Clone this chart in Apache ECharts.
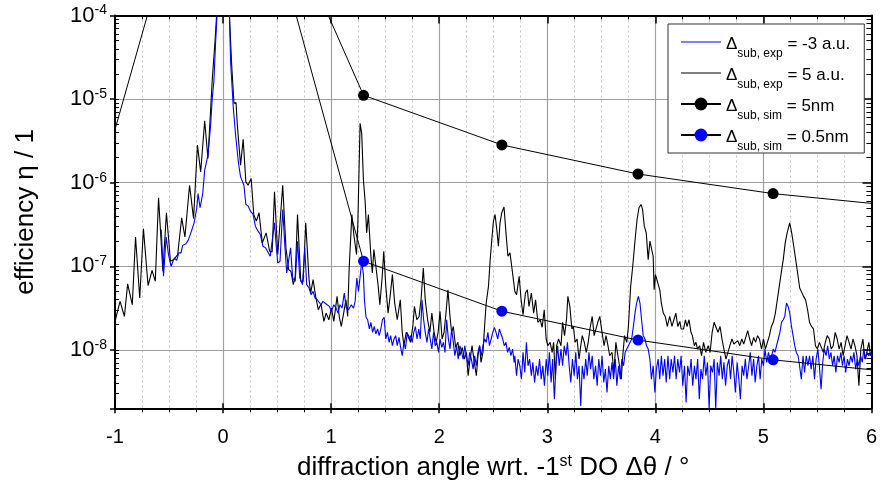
<!DOCTYPE html>
<html>
<head>
<meta charset="utf-8">
<script src="https://cdn.jsdelivr.net/npm/echarts@6/dist/echarts.min.js"></script>
<style>html,body{margin:0;padding:0;background:#fff}#main{width:880px;height:495px}</style>
</head>
<body>
<div id="main"></div>
<script>
var font = '"Liberation Sans", Arial, sans-serif';

var xMin = -1, xMax = 6;
var yMin = 2e-9, yMax = 1e-4;

// measured curves: [angle in deg, log10(efficiency)]
var black5au = [
[-1.0,-7.66],[-0.953,-7.42],[-0.913,-7.60],[-0.883,-7.21],[-0.840,-7.46],[-0.810,-6.65],[-0.771,-7.38],[-0.737,-6.55],[-0.694,-7.23],[-0.657,-7.05],
[-0.627,-7.18],[-0.597,-6.18],[-0.557,-7.06],[-0.524,-6.36],[-0.487,-6.94],[-0.456,-6.92],[-0.420,-6.86],[-0.383,-6.42],[-0.353,-6.65],[-0.310,-6.03],
[-0.273,-6.43],[-0.237,-5.55],[-0.207,-5.87],[-0.170,-5.26],[-0.140,-5.71],[-0.100,-4.77],[-0.074,-4.30],[-0.060,-4.0],[0.0,-2.5],[0.059,-4.0],
[0.080,-4.60],[0.101,-5.05],[0.120,-5.04],[0.132,-5.31],[0.162,-5.79],[0.186,-5.48],[0.211,-5.99],[0.232,-6.03],[0.260,-5.95],[0.284,-6.38],
[0.308,-6.46],[0.333,-6.36],[0.363,-6.72],[0.399,-6.60],[0.431,-6.82],[0.454,-6.83],[0.476,-6.11],[0.506,-6.86],[0.522,-6.85],[0.552,-6.03],
[0.582,-6.78],[0.607,-7.04],[0.628,-7.06],[0.650,-7.22],[0.668,-7.12],[0.689,-6.38],[0.719,-7.18],[0.741,-7.18],[0.765,-6.48],[0.796,-7.16],
[0.811,-7.32],[0.833,-7.16],[0.857,-7.36],[0.881,-7.52],[0.906,-7.45],[0.933,-7.66],[0.954,-7.56],[0.979,-7.64],[1.003,-7.50],[1.025,-7.66],
[1.055,-7.36],[1.076,-7.61],[1.094,-7.72],[1.116,-7.56],[1.137,-7.40],[1.153,-7.60],[1.167,-7.02],[1.192,-6.38],[1.210,-6.62],[1.235,-6.86],
[1.247,-6.50],[1.268,-5.29],[1.283,-5.41],[1.299,-5.97],[1.314,-6.21],[1.329,-6.60],[1.345,-6.38],[1.366,-6.84],[1.381,-7.08],[1.396,-6.80],
[1.414,-6.78],[1.436,-7.24],[1.451,-7.46],[1.473,-7.12],[1.487,-6.82],[1.506,-7.24],[1.527,-7.56],[1.546,-7.36],[1.567,-7.10],[1.588,-7.44],
[1.612,-7.64],[1.640,-7.40],[1.658,-7.79],[1.674,-7.95],[1.695,-7.79],[1.716,-7.83],[1.734,-7.91],[1.756,-7.72],[1.771,-7.48],[1.793,-7.64],
[1.814,-7.60],[1.832,-7.40],[1.853,-7.02],[1.871,-7.40],[1.893,-7.64],[1.914,-7.79],[1.932,-7.56],[1.953,-7.79],[1.972,-7.91],[1.990,-7.79],
[2.008,-7.54],[2.027,-7.87],[2.045,-7.79],[2.063,-7.56],[2.081,-7.28],[2.100,-7.60],[2.115,-7.79],[2.131,-7.72],[2.152,-7.97],[2.173,-7.91],
[2.191,-8.07],[2.213,-7.97],[2.234,-8.11],[2.252,-8.03],[2.268,-8.31],[2.282,-8.15],[2.304,-7.95],[2.325,-8.15],[2.344,-8.31],[2.359,-8.07],
[2.374,-7.95],[2.387,-8.15],[2.405,-8.03],[2.420,-7.72],[2.435,-7.44],[2.456,-7.24],[2.472,-6.92],[2.487,-6.68],[2.502,-6.46],[2.517,-6.38],
[2.533,-6.56],[2.548,-6.76],[2.563,-6.48],[2.579,-6.36],[2.600,-6.29],[2.618,-6.60],[2.636,-6.88],[2.655,-6.84],[2.679,-7.08],[2.700,-7.30],
[2.716,-7.34],[2.740,-7.12],[2.758,-7.40],[2.776,-7.58],[2.798,-7.32],[2.816,-7.28],[2.831,-7.48],[2.853,-7.32],[2.874,-7.56],[2.892,-7.40],
[2.913,-7.67],[2.935,-7.64],[2.953,-7.73],[2.972,-7.52],[2.990,-7.87],[3.005,-7.95],[3.027,-7.91],[3.045,-8.03],[3.059,-7.91],[3.075,-8.35],
[3.087,-7.95],[3.105,-7.87],[3.127,-7.95],[3.142,-7.67],[3.160,-7.83],[3.178,-7.64],[3.191,-7.36],[3.209,-7.48],[3.228,-7.75],[3.242,-7.72],
[3.258,-7.91],[3.276,-7.87],[3.294,-8.11],[3.310,-7.95],[3.324,-7.83],[3.343,-7.91],[3.361,-8.03],[3.379,-7.91],[3.395,-7.75],[3.416,-7.60],
[3.434,-7.83],[3.452,-7.83],[3.468,-7.67],[3.486,-7.60],[3.507,-7.79],[3.526,-7.95],[3.544,-7.83],[3.562,-7.95],[3.578,-8.07],[3.599,-8.03],
[3.617,-8.27],[3.635,-7.91],[3.654,-8.07],[3.669,-8.19],[3.685,-8.35],[3.699,-8.07],[3.715,-7.83],[3.736,-7.91],[3.751,-7.72],[3.772,-7.24],
[3.791,-7.00],[3.813,-6.68],[3.831,-6.44],[3.849,-6.30],[3.868,-6.26],[3.882,-6.32],[3.898,-6.52],[3.916,-6.60],[3.934,-6.92],[3.950,-6.70],
[3.964,-6.68],[3.980,-6.88],[3.989,-7.28],[4.001,-7.10],[4.019,-7.12],[4.041,-7.28],[4.056,-7.44],[4.074,-7.56],[4.092,-7.60],[4.111,-7.72],
[4.133,-7.60],[4.154,-7.72],[4.172,-7.64],[4.190,-7.56],[4.208,-7.72],[4.227,-7.66],[4.239,-7.75],[4.261,-7.75],[4.279,-7.64],[4.293,-7.72],
[4.312,-7.64],[4.330,-7.79],[4.343,-7.83],[4.361,-7.95],[4.376,-7.91],[4.391,-7.99],[4.410,-7.95],[4.428,-8.07],[4.446,-7.91],[4.467,-8.03],
[4.489,-7.95],[4.507,-8.03],[4.526,-7.79],[4.544,-7.67],[4.562,-7.66],[4.580,-7.79],[4.599,-7.72],[4.617,-7.87],[4.635,-7.99],[4.654,-8.11],
[4.672,-8.03],[4.690,-7.95],[4.709,-7.87],[4.727,-7.93],[4.745,-7.95],[4.763,-7.89],[4.782,-7.95],[4.800,-7.87],[4.818,-7.93],[4.837,-7.85],
[4.855,-7.77],[4.873,-7.87],[4.891,-7.95],[4.910,-7.85],[4.928,-7.91],[4.946,-7.83],[4.964,-7.87],[4.983,-7.99],[5.001,-7.87],[5.019,-7.99],
[5.037,-7.91],[5.056,-7.83],[5.074,-7.72],[5.092,-7.67],[5.111,-7.56],[5.129,-7.40],[5.147,-7.24],[5.165,-7.08],[5.184,-6.92],[5.202,-6.72],
[5.220,-6.60],[5.244,-6.48],[5.262,-6.60],[5.281,-6.76],[5.299,-6.92],[5.317,-7.08],[5.336,-7.26],[5.354,-7.28],[5.372,-7.36],[5.390,-7.40],
[5.409,-7.52],[5.427,-7.67],[5.445,-7.72],[5.464,-7.75],[5.482,-7.95],[5.500,-7.99],[5.518,-7.91],[5.537,-7.97],[5.555,-8.03],[5.573,-7.91],
[5.591,-7.83],[5.610,-7.87],[5.628,-7.99],[5.646,-7.95],[5.665,-7.79],[5.683,-7.87],[5.701,-7.99],[5.719,-7.91],[5.738,-8.07],[5.756,-7.95],
[5.774,-7.83],[5.793,-7.91],[5.811,-7.99],[5.829,-7.87],[5.847,-7.95],[5.866,-8.07],[5.884,-8.43],[5.902,-7.99],[5.921,-7.87],[5.939,-8.11],
[5.957,-8.03],[5.976,-7.91],[5.991,-8.07],[6.01,-7.99]
];

var blueM3au = [
[-0.572,-6.56],[-0.551,-7.12],[-0.527,-6.65],[-0.505,-6.86],[-0.481,-7.00],[-0.465,-7.00],[-0.451,-6.90],[-0.429,-6.93],[-0.410,-6.84],[-0.389,-6.84],
[-0.374,-6.75],[-0.344,-6.73],[-0.323,-6.69],[-0.298,-6.60],[-0.268,-6.48],[-0.243,-6.30],[-0.231,-6.13],[-0.213,-6.30],[-0.188,-6.13],[-0.170,-5.85],
[-0.152,-5.87],[-0.140,-5.67],[-0.115,-5.31],[-0.100,-4.99],[-0.085,-4.79],[-0.069,-4.32],[-0.056,-4.0],[0.0,-2.6],[0.059,-4.0],[0.070,-4.56],
[0.095,-5.11],[0.116,-5.43],[0.141,-5.75],[0.162,-5.93],[0.180,-5.95],[0.193,-6.03],[0.211,-6.26],[0.232,-6.28],[0.253,-6.34],[0.278,-6.38],
[0.299,-6.52],[0.324,-6.58],[0.345,-6.62],[0.369,-6.76],[0.394,-6.78],[0.415,-6.83],[0.436,-6.88],[0.454,-6.89],[0.476,-6.48],[0.491,-6.74],
[0.506,-6.96],[0.527,-6.94],[0.552,-6.32],[0.573,-6.78],[0.589,-7.08],[0.607,-7.06],[0.625,-6.78],[0.644,-7.14],[0.668,-7.18],[0.689,-6.70],
[0.710,-7.14],[0.735,-7.22],[0.756,-6.78],[0.774,-7.22],[0.796,-7.26],[0.814,-7.34],[0.833,-7.30],[0.851,-7.38],[0.872,-7.40],[0.888,-7.38],
[0.906,-7.46],[0.924,-7.42],[0.942,-7.44],[0.963,-7.46],[0.984,-7.48],[1.003,-7.54],[1.025,-7.46],[1.046,-7.50],[1.064,-7.56],[1.082,-7.46],
[1.101,-7.50],[1.122,-7.32],[1.140,-7.50],[1.162,-7.52],[1.186,-7.46],[1.207,-7.50],[1.222,-7.42],[1.238,-7.14],[1.253,-7.30],[1.277,-7.02],
[1.283,-6.94],[1.299,-7.10],[1.308,-7.40],[1.323,-7.61],[1.338,-7.64],[1.354,-7.75],[1.368,-7.67],[1.384,-7.79],[1.399,-7.72],[1.414,-7.81],
[1.430,-7.75],[1.445,-7.83],[1.460,-7.75],[1.475,-7.64],[1.491,-7.61],[1.505,-7.87],[1.521,-7.79],[1.537,-7.91],[1.551,-7.83],[1.567,-7.95],
[1.582,-7.87],[1.597,-7.83],[1.612,-7.95],[1.628,-7.85],[1.643,-7.97],[1.658,-8.07],[1.674,-7.91],[1.688,-7.99],[1.704,-7.79],[1.719,-7.87],
[1.734,-7.83],[1.750,-7.91],[1.765,-7.79],[1.780,-7.72],[1.795,-7.87],[1.811,-7.75],[1.825,-7.87],[1.841,-7.40],[1.856,-7.64],[1.871,-7.79],
[1.887,-7.91],[1.902,-7.75],[1.917,-7.87],[1.932,-7.99],[1.948,-7.79],[1.963,-7.95],[1.978,-7.91],[1.994,-8.03],[2.008,-7.87],[2.024,-7.97],
[2.039,-7.91],[2.054,-8.03],[2.069,-7.64],[2.085,-7.87],[2.100,-7.99],[2.115,-7.75],[2.131,-7.91],[2.145,-8.07],[2.161,-7.95],[2.176,-8.11],
[2.191,-7.95],[2.207,-8.03],[2.222,-8.11],[2.237,-7.95],[2.252,-8.07],[2.268,-8.19],[2.282,-8.03],[2.298,-8.11],[2.314,-8.23],[2.328,-8.07],
[2.344,-8.19],[2.359,-8.03],[2.374,-7.95],[2.389,-8.07],[2.405,-7.95],[2.420,-7.87],[2.435,-7.91],[2.451,-7.79],[2.465,-7.95],[2.481,-7.87],
[2.496,-7.79],[2.511,-7.73],[2.526,-7.79],[2.542,-7.87],[2.557,-7.75],[2.572,-7.75],[2.588,-7.87],[2.602,-7.95],[2.618,-7.91],[2.633,-8.03],
[2.648,-7.97],[2.664,-8.07],[2.679,-7.99],[2.694,-8.15],[2.700,-8.07],[2.716,-8.31],[2.730,-8.11],[2.746,-8.19],[2.761,-8.35],[2.776,-8.03],
[2.792,-8.27],[2.807,-7.91],[2.822,-8.19],[2.837,-8.11],[2.853,-8.31],[2.867,-8.15],[2.883,-8.39],[2.899,-8.19],[2.913,-8.31],[2.929,-8.11],
[2.944,-8.35],[2.959,-8.19],[2.974,-8.43],[2.990,-8.11],[3.005,-8.31],[3.020,-8.03],[3.036,-8.39],[3.050,-8.11],[3.066,-8.59],[3.081,-8.19],
[3.096,-7.95],[3.111,-8.19],[3.127,-7.99],[3.142,-8.19],[3.157,-7.95],[3.173,-8.07],[3.187,-7.91],[3.203,-8.19],[3.218,-8.39],[3.233,-8.11],
[3.249,-8.31],[3.264,-8.03],[3.279,-8.35],[3.294,-8.19],[3.310,-8.67],[3.324,-8.19],[3.340,-8.35],[3.356,-8.11],[3.370,-8.31],[3.386,-8.03],
[3.401,-8.23],[3.416,-8.07],[3.431,-8.35],[3.447,-8.19],[3.462,-8.43],[3.477,-8.11],[3.493,-8.31],[3.507,-8.07],[3.523,-8.39],[3.538,-8.23],
[3.553,-8.51],[3.569,-8.19],[3.584,-8.35],[3.599,-8.15],[3.614,-8.35],[3.630,-8.11],[3.644,-8.43],[3.660,-8.19],[3.676,-8.35],[3.690,-8.11],
[3.706,-8.19],[3.721,-8.03],[3.736,-7.99],[3.751,-7.95],[3.767,-7.95],[3.781,-7.87],[3.797,-7.72],[3.812,-7.56],[3.827,-7.44],[3.843,-7.36],
[3.858,-7.44],[3.873,-7.64],[3.888,-7.83],[3.904,-7.87],[3.919,-7.95],[3.934,-7.99],[3.950,-8.11],[3.964,-8.35],[3.980,-8.19],[3.996,-8.51],
[4.010,-8.23],[4.026,-8.11],[4.041,-8.35],[4.056,-8.07],[4.071,-8.31],[4.087,-8.11],[4.101,-8.39],[4.117,-8.07],[4.133,-8.35],[4.147,-8.11],
[4.163,-8.27],[4.178,-8.07],[4.193,-8.35],[4.208,-8.11],[4.224,-8.27],[4.239,-8.07],[4.254,-8.43],[4.270,-8.19],[4.285,-8.63],[4.300,-8.19],
[4.316,-8.31],[4.331,-8.11],[4.346,-8.43],[4.362,-8.19],[4.376,-8.35],[4.392,-8.11],[4.407,-8.59],[4.422,-8.23],[4.437,-8.35],[4.453,-8.07],
[4.467,-8.31],[4.483,-8.15],[4.498,-8.71],[4.513,-8.19],[4.529,-8.27],[4.544,-8.11],[4.559,-8.71],[4.574,-8.15],[4.590,-8.31],[4.605,-8.07],
[4.620,-8.35],[4.635,-8.15],[4.650,-8.43],[4.666,-8.19],[4.681,-8.11],[4.696,-8.35],[4.711,-8.07],[4.727,-8.27],[4.741,-8.51],[4.757,-8.15],
[4.773,-8.35],[4.787,-8.59],[4.803,-8.19],[4.818,-8.31],[4.833,-8.11],[4.848,-8.35],[4.864,-8.19],[4.879,-8.03],[4.894,-8.31],[4.910,-8.11],
[4.924,-8.39],[4.940,-8.19],[4.955,-8.07],[4.970,-8.35],[4.985,-8.11],[5.001,-8.19],[5.015,-7.99],[5.031,-8.15],[5.047,-8.03],[5.061,-8.11],
[5.077,-8.07],[5.092,-7.99],[5.107,-8.03],[5.122,-7.95],[5.138,-7.87],[5.153,-7.79],[5.168,-7.67],[5.184,-7.64],[5.198,-7.60],[5.214,-7.44],
[5.229,-7.48],[5.244,-7.56],[5.260,-7.72],[5.275,-7.83],[5.290,-7.95],[5.305,-8.03],[5.321,-8.07],[5.335,-8.19],[5.351,-8.35],[5.367,-8.07],
[5.381,-8.27],[5.397,-8.07],[5.412,-8.19],[5.427,-8.07],[5.442,-8.23],[5.458,-8.07],[5.473,-8.35],[5.488,-8.11],[5.504,-7.99],[5.518,-8.19],
[5.534,-8.47],[5.549,-8.15],[5.564,-7.99],[5.580,-8.07],[5.595,-7.95],[5.610,-8.11],[5.625,-8.03],[5.641,-8.19],[5.655,-8.07],[5.671,-8.27],
[5.686,-8.07],[5.701,-8.15],[5.717,-8.03],[5.732,-8.19],[5.747,-8.07],[5.762,-8.27],[5.778,-8.11],[5.793,-8.19],[5.808,-8.07],[5.823,-8.15],
[5.838,-8.03],[5.854,-8.23],[5.869,-8.11],[5.884,-8.19],[5.899,-8.07],[5.915,-8.15],[5.929,-7.99],[5.945,-8.11],[5.960,-8.03],[5.976,-8.07],
[5.991,-8.03],[6.01,-8.09]
];

// simulated diffraction orders
var sim5nmX = [0, 1.30, 2.58, 3.84, 5.09, 6.35];
var sim5nmY = [7.1e-2, 1.11e-5, 2.83e-6, 1.27e-6, 7.4e-7, 5.1e-7];
var sim05nmX = [-1.28, 0, 1.30, 2.58, 3.84, 5.09, 6.35];
var sim05nmY = [2.3e-7, 1.55e-1, 1.15e-7, 2.9e-8, 1.31e-8, 7.6e-9, 5.2e-9];

var legendNames = ['exp -3', 'exp 5', 'sim 5', 'sim 0.5'];
var legendSub = ['sub, exp', 'sub, exp', 'sub, sim', 'sub, sim'];
var legendValue = [' = -3 a.u.', ' = 5 a.u.', ' = 5nm', ' = 0.5nm'];

function fromLog(list) {
    return list.map(function (p) { return [p[0], Math.pow(10, p[1])]; });
}
function zip(xs, ys) {
    return xs.map(function (x, i) { return [x, ys[i]]; });
}

var logMin = Math.log10(yMin), logMax = Math.log10(yMax);
var majorTicks = [], minorTicks = [];
for (var n = -9; n <= -4; n++) {
    if (n > logMin) majorTicks.push(n);
    for (var m = 2; m <= 9; m++) {
        var v = n + Math.log10(m);
        if (v > logMin && v < logMax) minorTicks.push(v);
    }
}

var blackAxis = {color: '#000', width: 2};
var lineIcon = 'path://M0,0L40,0L40,1.2L0,1.2Z';

var option = {
    animation: false,
    backgroundColor: '#fff',
    grid: {left: 115, right: 0, top: 15.5, bottom: 86.7},
    legend: {
        orient: 'vertical',
        left: 668, top: 24,
        padding: [8, 14, 0, 12],
        itemWidth: 40, itemHeight: 16, itemGap: 3,
        borderColor: '#333', borderWidth: 1, backgroundColor: '#fff',
        selectedMode: false,
        data: [
            {name: legendNames[0], icon: lineIcon},
            {name: legendNames[1], icon: lineIcon},
            legendNames[2], legendNames[3]
        ],
        formatter: function (name) {
            var i = legendNames.indexOf(name);
            return '{t|Δ}{u|' + legendSub[i] + '}{t|' + legendValue[i] + '}';
        },
        textStyle: {
            fontFamily: font, fontSize: 17, color: '#000',
            rich: {
                t: {fontFamily: font, fontSize: 17, color: '#000', lineHeight: 20, padding: [4, 0, 4, 0], verticalAlign: 'top'},
                u: {fontFamily: font, fontSize: 12, color: '#000', lineHeight: 12, padding: [16, 0, 0, 0], verticalAlign: 'top'}
            }
        }
    },
    xAxis: [{
        type: 'value', min: xMin, max: xMax, interval: 1, position: 'bottom',
        axisLine: {show: true, onZero: false, lineStyle: blackAxis},
        axisTick: {show: true, length: 5, lineStyle: {color: '#000', width: 1.5}},
        minorTick: {show: true, splitNumber: 4, length: 4, lineStyle: {color: '#000', width: 1}},
        axisLabel: {fontFamily: font, fontSize: 20, color: '#000', margin: 19},
        splitLine: {show: true, lineStyle: {color: '#a0a0a0', width: 1.2}},
        minorSplitLine: {show: true, lineStyle: {color: '#c4c4c4', width: 1, type: [2, 3]}},
        name: '{n|diffraction angle wrt. -1}{s|st}{n| DO Δθ / °}',
        nameLocation: 'middle', nameGap: 45,
        nameTextStyle: {
            fontFamily: font, fontSize: 26, color: '#000',
            rich: {
                n: {fontFamily: font, fontSize: 26, color: '#000', lineHeight: 30, verticalAlign: 'middle'},
                s: {fontFamily: font, fontSize: 16, color: '#000', lineHeight: 18, verticalAlign: 'top'}
            }
        }
    }, {
        type: 'value', min: xMin, max: xMax, interval: 1, position: 'bottom',
        axisLine: {show: false, onZero: false},
        axisTick: {show: true, inside: true, length: 5, lineStyle: {color: '#000', width: 1.5}},
        axisLabel: {show: false}, splitLine: {show: false}
    }, {
        type: 'value', min: xMin, max: xMax, interval: 1, position: 'top',
        axisLine: {show: true, onZero: false, lineStyle: blackAxis},
        axisTick: {show: true, inside: true, length: 8, lineStyle: {color: '#000', width: 1.5}},
        minorTick: {show: true, splitNumber: 4, length: 4, lineStyle: {color: '#000', width: 1}},
        axisLabel: {show: false}, splitLine: {show: false}
    }],
    yAxis: [{
        type: 'log', logBase: 10, min: yMin, max: yMax, position: 'left',
        axisLine: {show: true, onZero: false, lineStyle: blackAxis},
        axisTick: {show: true, length: 5, lineStyle: {color: '#000', width: 1.5}},
        axisLabel: {
            margin: 8,
            formatter: function (v) {
                var e = Math.log10(v);
                if (Math.abs(e - Math.round(e)) > 1e-6) return '';
                return '{b|10}{s|' + Math.round(e) + '}';
            },
            rich: {
                b: {fontFamily: font, fontSize: 22, color: '#000', lineHeight: 24, verticalAlign: 'middle'},
                s: {fontFamily: font, fontSize: 14, color: '#000', lineHeight: 15, verticalAlign: 'top'}
            }
        },
        splitLine: {show: true, lineStyle: {color: '#a0a0a0', width: 1.2}},
        name: 'efficiency η / 1', nameLocation: 'middle', nameGap: 76,
        nameTextStyle: {fontFamily: font, fontSize: 26, color: '#000'}
    }, {
        type: 'value', min: logMin, max: logMax, position: 'left',
        axisLine: {show: false, onZero: false},
        axisTick: {show: true, inside: true, length: 4, customValues: majorTicks.concat(minorTicks), lineStyle: {color: '#000', width: 1}},
        axisLabel: {show: false}, splitLine: {show: false}
    }, {
        type: 'value', min: logMin, max: logMax, position: 'right',
        axisLine: {show: true, onZero: false, lineStyle: blackAxis},
        axisTick: {show: true, inside: true, length: 5, customValues: minorTicks, lineStyle: {color: '#000', width: 1}},
        axisLabel: {show: false}, splitLine: {show: false}
    }, {
        type: 'value', min: logMin, max: logMax, position: 'right',
        axisLine: {show: false, onZero: false},
        axisTick: {show: true, inside: true, length: 9, customValues: majorTicks, lineStyle: {color: '#000', width: 1.5}},
        axisLabel: {show: false}, splitLine: {show: false}
    }],
    series: [{
        name: 'exp 5', type: 'line', data: fromLog(black5au),
        symbol: 'none', lineStyle: {color: '#000', width: 1.1}, itemStyle: {color: '#000'}, silent: true
    }, {
        name: 'exp -3', type: 'line', data: fromLog(blueM3au),
        symbol: 'none', lineStyle: {color: '#0000ff', width: 1.1}, itemStyle: {color: '#0000ff'}, silent: true
    }, {
        name: 'sim 5', type: 'line', data: zip(sim5nmX, sim5nmY),
        symbol: 'circle', symbolSize: 11, showAllSymbol: true,
        lineStyle: {color: '#000', width: 1}, itemStyle: {color: '#000'}, silent: true
    }, {
        name: 'sim 0.5', type: 'line', data: zip(sim05nmX, sim05nmY),
        symbol: 'circle', symbolSize: 11, showAllSymbol: true,
        lineStyle: {color: '#000', width: 1}, itemStyle: {color: '#0000ff'}, silent: true
    }]
};

var myChart = echarts.init(document.getElementById('main'));
myChart.setOption(option);
</script>
</body>
</html>
